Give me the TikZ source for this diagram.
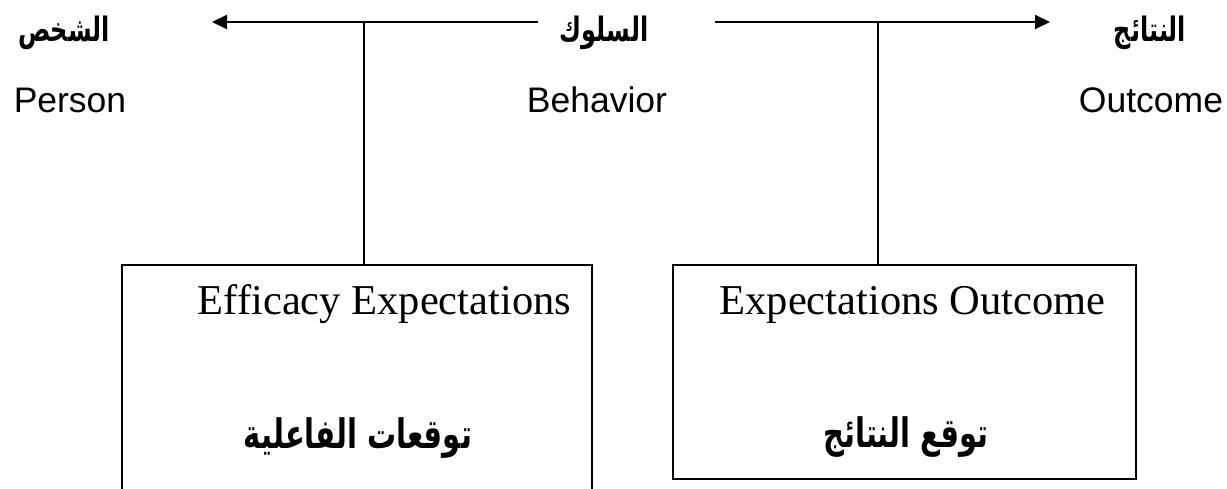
\documentclass[tikz,border=0pt]{standalone}
\usepackage{graphicx}
\usepackage{fontspec}
\setmainfont{Liberation Serif}
\newfontfamily\sansfont{Liberation Sans}
\newfontfamily\arabicfont[Script=Arabic]{DejaVu Sans}
\TeXXeTstate=1
\usetikzlibrary{arrows.meta}
\newcommand{\artall}[1]{\scalebox{1}[1.4]{\beginR #1\endR}}
\begin{document}
\begin{tikzpicture}[x=1pt,y=-1pt,
  conn/.style={line width=2pt,-{Triangle[length=15pt,width=14pt]}},
  vline/.style={line width=1.6pt},
  box/.style={draw,line width=2pt,inner sep=0pt},
  entxt/.style={font=\sansfont\fontsize{35.5}{40}\selectfont,inner sep=0pt},
  artop/.style={font=\arabicfont\bfseries\fontsize{24}{28}\selectfont,inner sep=0pt},
  arbox/.style={font=\arabicfont\bfseries\fontsize{29}{34}\selectfont,inner sep=0pt},
  serif/.style={font=\fontsize{42.5}{48}\selectfont,inner sep=0pt,anchor=base}]
\useasboundingbox (0,0) rectangle (1227,489);
\clip (0,0) rectangle (1227,489);
% top labels
\node[artop] (pAr) at (64,33) {\artall{الشخص}};
\node[entxt] (pEn) at (70,100) {Person};
\node[artop] (bAr) at (604,33) {\artall{السلوك}};
\node[entxt] (bEn) at (597,100) {Behavior};
\node[artop] (oAr) at (1150,33) {\artall{النتائج}};
\node[entxt] (oEn) at (1151,100) {Outcome};
% boxes
\node[box,minimum width=470pt,minimum height=226pt] (eff) at (357,378) {};
\node[box,minimum width=463pt,minimum height=214pt] (out) at (904.5,372) {};
\node[serif] (effEn) at (384.5,315) {Efficacy Expectations};
\node[serif] (outEn) at (912.5,315) {Expectations Outcome};
\node[arbox] (effAr) at (358,438) {\artall{توقعات الفاعلية}};
\node[arbox] (outAr) at (906,437) {\artall{توقع النتائج}};
% arrows
\coordinate (lS) at (538,22);
\coordinate (lE) at (212,22);
\coordinate (rS) at (715,22);
\coordinate (rE) at (1050,22);
\draw[conn] (lS) -- (lE);
\draw[conn] (rS) -- (rE);
\draw[vline] (eff.north -| 364,0) -- (364,22);
\draw[vline] (out.north -| 878,0) -- (878,22);
\end{tikzpicture}
\end{document}
